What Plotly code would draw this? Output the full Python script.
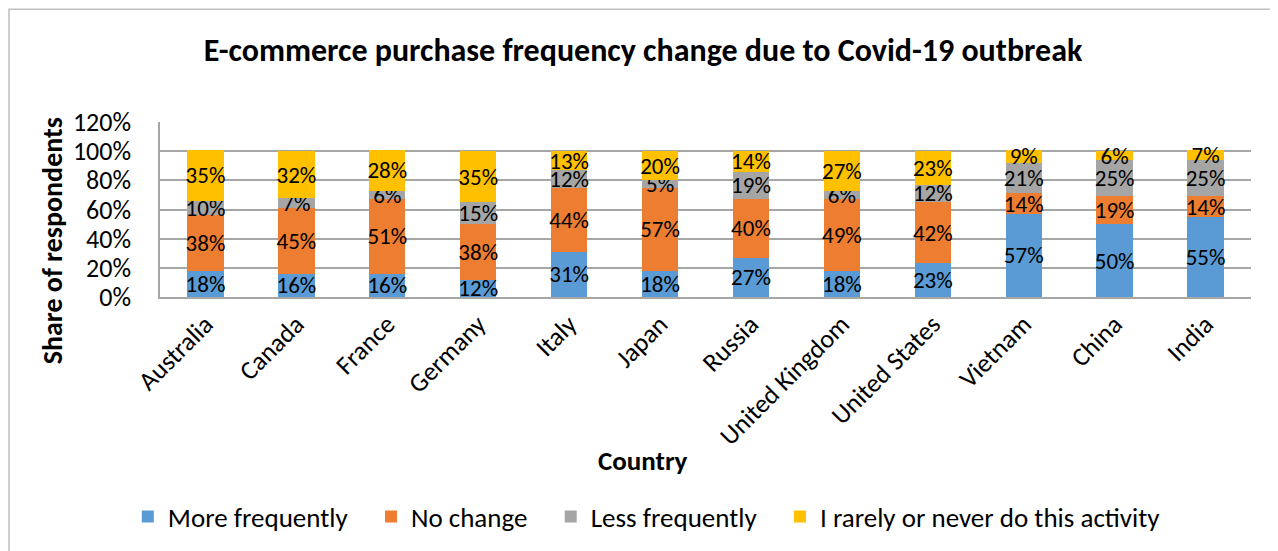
import plotly.graph_objects as go

countries = ["Australia", "Canada", "France", "Germany", "Italy", "Japan",
             "Russia", "United Kingdom", "United States", "Vietnam", "China", "India"]
more_frequently = [0.18, 0.16, 0.16, 0.12, 0.31, 0.18, 0.27, 0.18, 0.23, 0.57, 0.50, 0.55]
no_change = [0.38, 0.45, 0.51, 0.38, 0.44, 0.57, 0.40, 0.49, 0.42, 0.14, 0.19, 0.14]
less_frequently = [0.10, 0.07, 0.06, 0.15, 0.12, 0.05, 0.19, 0.06, 0.12, 0.21, 0.25, 0.25]
rarely_never = [0.35, 0.32, 0.28, 0.35, 0.13, 0.20, 0.14, 0.27, 0.23, 0.09, 0.06, 0.07]

series = [
    ("More frequently", more_frequently, "#5B9BD5"),
    ("No change", no_change, "#ED7D31"),
    ("Less frequently", less_frequently, "#A5A5A5"),
    ("I rarely or never do this activity", rarely_never, "#FFC000"),
]

font_family = "Carlito, Liberation Sans Narrow, Lato, sans-serif"
pad = "\u00a0" * 3  # a bit more room between legend entries

fig = go.Figure()
for i, (name, vals, color) in enumerate(series):
    fig.add_trace(go.Bar(
        x=countries, y=vals,
        name=name + (pad if i < len(series) - 1 else ""),
        marker=dict(color=color, line=dict(width=0)),
        text=[f"{v:.0%}" for v in vals],
        textposition="inside", insidetextanchor="middle", textangle=0,
        textfont=dict(color="black", size=23, family=font_family),
        cliponaxis=False,
    ))

# page body adds 8px offset, so the figure is 8px smaller and margins shifted
fig.update_layout(
    barmode="stack", bargap=0.6,
    width=1270, height=543,
    margin=dict(l=152, r=27, t=114, b=253),
    plot_bgcolor="white", paper_bgcolor="white",
    font=dict(family=font_family, color="black", size=22),
    uniformtext=dict(minsize=23, mode="show"),
    title=dict(text="<b>E-commerce purchase frequency change due to Covid-19 outbreak</b>",
               x=0.5, xanchor="center", y=0.923, yanchor="middle",
               font=dict(size=32)),
    legend=dict(orientation="h", x=-0.0295, xanchor="left", y=-1.244, yanchor="middle",
                font=dict(size=27), traceorder="normal", itemwidth=30),
    showlegend=True,
)

fig.update_yaxes(range=[0, 1.2], dtick=0.2, tickformat=".0%",
                 showgrid=True, gridcolor="#A6A6A6", gridwidth=1.5,
                 showline=True, linecolor="#A6A6A6", linewidth=1.5,
                 ticks="", tickfont=dict(size=26), ticklabelstandoff=22,
                 zeroline=False, automargin=False)
fig.update_xaxes(tickangle=-45, tickfont=dict(size=26),
                 showline=True, linecolor="#A6A6A6", linewidth=1.5,
                 automargin=False)

fig.add_annotation(text="<b>Country</b>", xref="paper", yref="paper",
                   x=0.443, y=-0.932, xanchor="center", yanchor="middle",
                   showarrow=False, font=dict(size=27))
fig.add_annotation(text="<b>Share of respondents</b>", textangle=-90,
                   xref="paper", yref="paper", x=-0.099, y=0.324,
                   xanchor="center", yanchor="middle",
                   showarrow=False, font=dict(size=28))

# outer chart border
fig.add_shape(type="rect", xref="paper", yref="paper",
              x0=-0.1384, x1=1.0229, y0=-1.5, y1=1.645,
              line=dict(color="#BFBFBF", width=1.5), layer="below")

fig.write_html("out.html")
